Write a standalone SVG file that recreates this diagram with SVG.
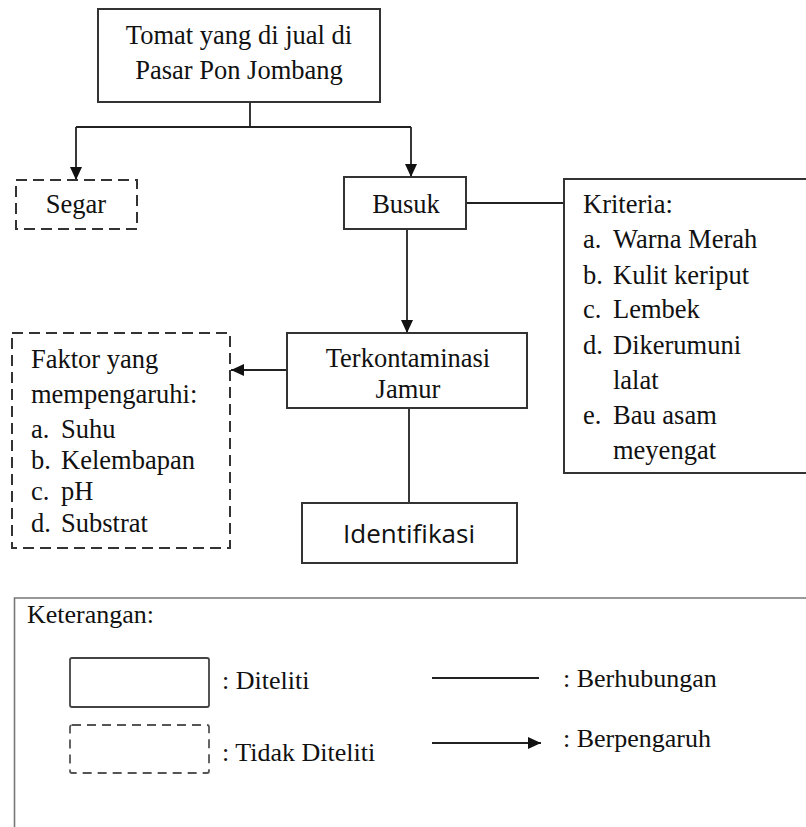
<svg xmlns="http://www.w3.org/2000/svg" width="806" height="827" viewBox="0 0 806 827">
<style>
.box{fill:#fff;stroke:#333;stroke-width:2}
.dash{fill:#fff;stroke:#333;stroke-width:2;stroke-dasharray:11 6}
.ln{stroke:#222;stroke-width:1.8;fill:none}
.t{font-family:"Liberation Serif","Times New Roman",serif;font-size:26.5px;fill:#111}
.c{text-anchor:middle}
.s{font-family:"Open Sans","Liberation Sans",sans-serif;font-size:26px;fill:#111}
.lg{font-family:"Liberation Serif","Times New Roman",serif;font-size:26px;fill:#111}
</style>
<defs>
<marker id="ah" markerUnits="userSpaceOnUse" markerWidth="14" markerHeight="12" refX="13" refY="6" orient="auto">
<path d="M0,0 L13,6 L0,12 z" fill="#111"/>
</marker>
</defs>
<rect width="806" height="827" fill="#fff"/>
<g id="connectors">
<line class="ln" x1="250" y1="102" x2="250" y2="127"/>
<line class="ln" x1="76" y1="127" x2="411" y2="127"/>
<line class="ln" x1="76" y1="127" x2="76" y2="180" marker-end="url(#ah)"/>
<line class="ln" x1="411" y1="127" x2="411" y2="177" marker-end="url(#ah)"/>
<line class="ln" x1="466" y1="203" x2="564" y2="203"/>
<line class="ln" x1="407" y1="229" x2="407" y2="333" marker-end="url(#ah)"/>
<line class="ln" x1="287" y1="370" x2="231" y2="370" marker-end="url(#ah)"/>
<line class="ln" x1="409" y1="408" x2="409" y2="503"/>
</g>
<g id="node-tomat">
<rect class="box" x="98" y="9" width="282" height="93"/>
<text class="t c" x="239" y="44">Tomat yang di jual di</text>
<text class="t c" x="239" y="79">Pasar Pon Jombang</text>
</g>
<g id="node-segar">
<rect class="dash" x="16" y="180" width="121" height="49"/>
<text class="t c" x="76" y="213">Segar</text>
</g>
<g id="node-busuk">
<rect class="box" x="344" y="177" width="122" height="52"/>
<text class="t c" x="406" y="213">Busuk</text>
</g>
<g id="node-kriteria">
<path d="M808,179 H564 V473 H808" fill="#fff" stroke="#333" stroke-width="2"/>
<text class="t" x="583" y="213">Kriteria:</text>
<text class="t" x="583" y="248">a.</text><text class="t" x="613" y="248">Warna Merah</text>
<text class="t" x="583" y="284">b.</text><text class="t" x="613" y="284">Kulit keriput</text>
<text class="t" x="583" y="318">c.</text><text class="t" x="613" y="318">Lembek</text>
<text class="t" x="583" y="354">d.</text><text class="t" x="613" y="354">Dikerumuni</text>
<text class="t" x="613" y="389">lalat</text>
<text class="t" x="583" y="424">e.</text><text class="t" x="613" y="424">Bau asam</text>
<text class="t" x="613" y="459">meyengat</text>
</g>
<g id="node-faktor">
<rect class="dash" x="12" y="333" width="218" height="215"/>
<text class="t" x="31" y="368">Faktor yang</text>
<text class="t" x="31" y="403">mempengaruhi:</text>
<text class="t" x="31" y="438">a.</text><text class="t" x="61" y="438">Suhu</text>
<text class="t" x="31" y="469">b.</text><text class="t" x="61" y="469">Kelembapan</text>
<text class="t" x="31" y="500">c.</text><text class="t" x="61" y="500">pH</text>
<text class="t" x="31" y="532">d.</text><text class="t" x="61" y="532">Substrat</text>
</g>
<g id="node-terkontaminasi">
<rect class="box" x="287" y="333" width="240" height="75"/>
<text class="t c" x="408" y="367">Terkontaminasi</text>
<text class="t c" x="408" y="398">Jamur</text>
</g>
<g id="node-identifikasi">
<rect class="box" x="302" y="503" width="215" height="60"/>
<text class="s c" x="409" y="543">Identifikasi</text>
</g>
<g id="legend">
<path d="M808,598 H14.5 V829" fill="none" stroke="#777" stroke-width="1.6"/>
<text class="lg" x="27" y="623">Keterangan:</text>
<rect x="70" y="658" width="139" height="49" rx="2" fill="#fff" stroke="#444" stroke-width="1.8"/>
<text class="lg" x="222" y="689">: Diteliti</text>
<rect x="70" y="725" width="139" height="48" rx="2" fill="#fff" stroke="#555" stroke-width="1.8" stroke-dasharray="9 6"/>
<text class="lg" x="222" y="761">: Tidak Diteliti</text>
<line class="ln" x1="432" y1="678" x2="539" y2="678"/>
<text class="lg" x="563" y="687">: Berhubungan</text>
<line class="ln" x1="432" y1="743" x2="541" y2="743" marker-end="url(#ah)"/>
<text class="lg" x="563" y="747">: Berpengaruh</text>
</g>
</svg>
